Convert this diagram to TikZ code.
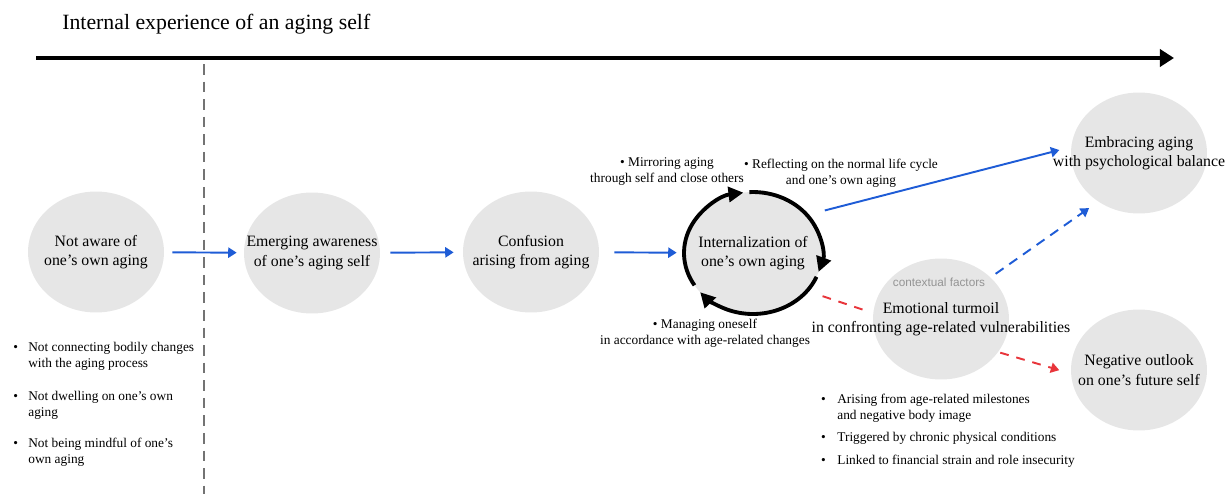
\documentclass[tikz,border=0pt]{standalone}
\usepackage{fontspec}
\setmainfont{Liberation Serif}
\newfontfamily\contextfont{Liberation Sans}
\usepackage{xcolor}
\usepackage{tikz}
\usetikzlibrary{arrows.meta, shapes.geometric}
\definecolor{stagegray}{HTML}{E6E6E6}
\definecolor{flowblue}{HTML}{1E5CD6}
\definecolor{turmoilred}{HTML}{E8353B}

\begin{document}
\begin{tikzpicture}[x=0.02cm, y=-0.02cm,
      stage/.style={ellipse, fill=stagegray, minimum width=2.72cm, minimum height=2.42cm, inner sep=0pt},
      stagetext/.style={align=center, inner sep=0pt, font=\fontsize{9}{11}\selectfont},
      cyclenote/.style={align=center, inner sep=0pt, font=\fontsize{7.6}{9.1}\selectfont},
      bulletitem/.style={align=left, anchor=base west, inner sep=0pt, font=\fontsize{7.6}{9.1}\selectfont},
      flow/.style={draw=flowblue, line width=1.1pt, -{Triangle[length=4.8pt, width=5.8pt]}},
      flowdashed/.style={flow, dash pattern=on 5.5pt off 4pt},
      turmoilline/.style={draw=turmoilred, line width=1.1pt, dash pattern=on 5pt off 4.5pt},
      loopline/.style={line width=2.2pt, -{Triangle[length=8.5pt, width=8.5pt]}}]
      \useasboundingbox (0,0) rectangle (1231,494);

      \node[anchor=west, inner sep=0pt, font=\fontsize{12.4}{15}\selectfont] (title) at (62,24) {Internal experience of an aging self};
      \coordinate (timestart) at (36,58);
      \coordinate (timeend) at (1174,58);
      \draw[line width=2.3pt, -{Triangle[length=8pt, width=9.7pt]}] (timestart) -- (timeend);

      \coordinate (dividertop) at (204,64);
      \coordinate (dividerbottom) at (204,494);
      \draw[black!55, line width=0.85pt, dash pattern=on 6pt off 4pt] (dividertop) -- (dividerbottom);

      \node[stage, label={[stagetext]center:Not aware of\\one’s own aging}] (unaware) at (96,252) {};
      \node[stage, label={[stagetext]center:Emerging awareness\\of one’s aging self}] (emerging) at (312,253) {};
      \node[stage, label={[stagetext]center:Confusion\\arising from aging}] (confusion) at (531,252) {};
      \node[stage, minimum width=2.76cm, minimum height=2.44cm, label={[stagetext]center:Internalization of\\one’s own aging}] (intern) at (753,253) {};
      \node[stage, label={[stagetext]center:Embracing aging\\with psychological balance}] (embrace) at (1139,153) {};
      \node[stage, label={[stagetext]center:Emotional turmoil\\in confronting age-related vulnerabilities}] (turmoil) at (941,319) {};
      \node[stage, label={[stagetext]center:Negative outlook\\on one’s future self}] (negative) at (1139,370) {};
      \node[text=black!42, inner sep=0pt, font=\contextfont\fontsize{6.7}{8}\selectfont] (context) at (939,282) {contextual factors};

      \draw[loopline] (intern.center) ++(212:1.38cm and 1.22cm) arc[start angle=212, end angle=98, x radius=1.38cm, y radius=1.22cm];
      \draw[loopline] (intern.center) ++(93:1.38cm and 1.22cm) arc[start angle=93, end angle=-18, x radius=1.38cm, y radius=1.22cm];
      \draw[loopline] (intern.center) ++(-23:1.38cm and 1.22cm) arc[start angle=-23, end angle=-140, x radius=1.38cm, y radius=1.22cm];

      \node[cyclenote] (mirror) at (667,172) {\textbullet\ Mirroring aging\\through self and close others};
      \node[cyclenote] (reflect) at (841,173) {\textbullet\ Reflecting on the normal life cycle\\and one’s own aging};
      \node[cyclenote] (manage) at (705,333) {\textbullet\ Managing oneself\\in accordance with age-related changes};

      \draw[flow, shorten <=0.16cm, shorten >=0.14cm] (unaware) -- (emerging);
      \draw[flow, shorten <=0.2cm, shorten >=0.18cm] (emerging) -- (confusion);
      \draw[flow, shorten <=0.3cm, shorten >=0.14cm] (confusion) -- (intern);
      \draw[flow, shorten <=0.36cm, shorten >=0.24cm] (intern.35) -- (embrace.175);
      \draw[flowdashed, shorten <=0.12cm, shorten >=0.22cm] (turmoil.40) -- (embrace.230);
      \draw[turmoilline, shorten <=0.32cm, shorten >=0.12cm] (intern.-35) -- (turmoil.175);
      \draw[turmoilline, -{Triangle[length=4.8pt, width=5.8pt]}, shorten <=0.04cm, shorten >=0.24cm] (turmoil.-30) -- (negative.183);

      \node[bulletitem] (bodily) at (28,367) {\llap{\textbullet\hspace{5.8pt}}Not connecting bodily changes\\with the aging process};
      \node[bulletitem] (dwelling) at (28,416) {\llap{\textbullet\hspace{5.8pt}}Not dwelling on one’s own\\aging};
      \node[bulletitem] (mindful) at (28,463) {\llap{\textbullet\hspace{5.8pt}}Not being mindful of one’s\\own aging};

      \node[bulletitem] (milestones) at (837,419) {\llap{\textbullet\hspace{6.6pt}}Arising from age-related milestones\\and negative body image};
      \node[bulletitem] (chronic) at (837,441) {\llap{\textbullet\hspace{6.6pt}}Triggered by chronic physical conditions};
      \node[bulletitem] (financial) at (837,464) {\llap{\textbullet\hspace{6.6pt}}Linked to financial strain and role insecurity};
\end{tikzpicture}
\end{document}
